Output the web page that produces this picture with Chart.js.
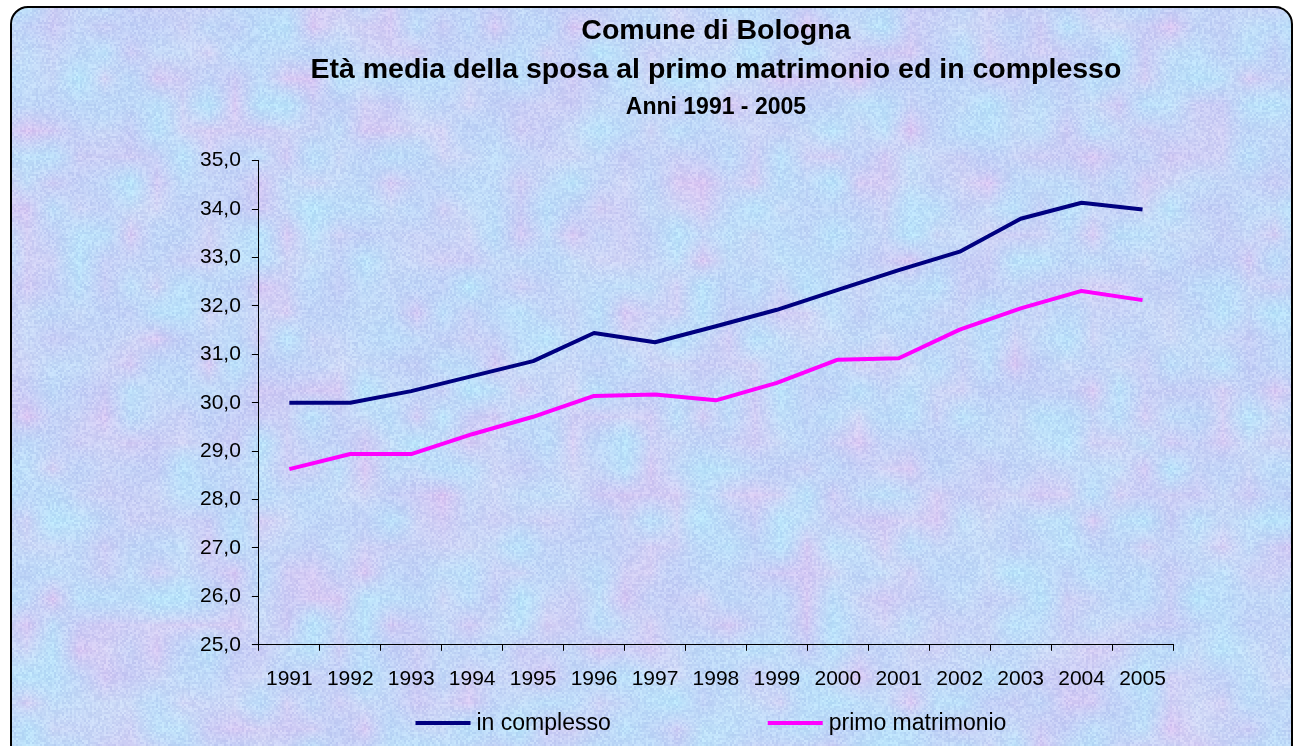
<!DOCTYPE html>
<html>
<head>
<meta charset="utf-8">
<script src="https://cdn.jsdelivr.net/npm/chart.js@4.4.0/dist/chart.umd.min.js"></script>
<style>
  html, body { margin: 0; padding: 0; background: #fff; }
  #bg { position: absolute; left: 0; top: 0; }
  #chart { position: absolute; left: 0; top: 0; }
  #frame {
    position: absolute; left: 10px; top: 6px; width: 1279px; height: 770px;
    border: 2px solid #000; border-radius: 18px; pointer-events: none;
  }
</style>
</head>
<body>
<canvas id="bg" width="1294" height="746"></canvas>
<canvas id="chart" width="1294" height="746"></canvas>
<div id="frame"></div>
<script>
const years = ['1991', '1992', '1993', '1994', '1995', '1996', '1997', '1998',
               '1999', '2000', '2001', '2002', '2003', '2004', '2005'];
const inComplesso = [30.0, 30.0, 30.24, 30.55, 30.86, 31.44, 31.25, 31.58,
                     31.92, 32.33, 32.74, 33.12, 33.8, 34.13, 33.99];
const primoMatrimonio = [28.63, 28.94, 28.94, 29.35, 29.71, 30.14, 30.17, 30.05,
                         30.41, 30.89, 30.92, 31.51, 31.95, 32.31, 32.12];
const yTicks = { min: 25, max: 35, step: 1 };

const FONT = '"Liberation Sans", Arial, sans-serif';

// marbled blue / pink paper texture behind the chart (seeded, fixed)
function paintTexture(cv) {
  const ctx = cv.getContext('2d');
  const w = cv.width, h = cv.height;
  let s = 20061;
  const rnd = () => (s = (s * 16807) % 2147483647) / 2147483647;
  const G = 26, gw = Math.ceil(w / G) + 2, gh = Math.ceil(h / G) + 2;
  const pink = [], cyan = [];
  for (let i = 0; i < gw * gh; i++) { pink.push(rnd()); cyan.push(rnd()); }
  const sample = (arr, x, y) => {
    const gx = x / G, gy = y / G, ix = Math.floor(gx), iy = Math.floor(gy);
    const fx = gx - ix, fy = gy - iy;
    const a = arr[iy * gw + ix], b = arr[iy * gw + ix + 1];
    const c = arr[(iy + 1) * gw + ix], d = arr[(iy + 1) * gw + ix + 1];
    return (a * (1 - fx) + b * fx) * (1 - fy) + (c * (1 - fx) + d * fx) * fy;
  };
  const img = ctx.createImageData(w, h);
  for (let y = 0; y < h; y += 2) {
    for (let x = 0; x < w; x += 2) {
      const p = Math.pow(sample(pink, x, y), 2);
      const c = sample(cyan, x, y);
      const g = (rnd() - 0.5) * 22;
      const r = 194 + p * 26 - c * 10 + g;
      const gg = 206 - p * 12 + c * 22 + g;
      const b = 246 - p * 4 + c * 4 + g * 0.5;
      for (let dy = 0; dy < 2; dy++) for (let dx = 0; dx < 2; dx++) {
        const k = ((y + dy) * w + x + dx) * 4;
        img.data[k] = r; img.data[k + 1] = gg; img.data[k + 2] = b; img.data[k + 3] = 255;
      }
    }
  }
  ctx.putImageData(img, 0, 0);
  // white outside the rounded frame
  ctx.globalCompositeOperation = 'destination-in';
  ctx.beginPath();
  ctx.roundRect(11, 7, 1281, 800, 18);
  ctx.fill();
}
paintTexture(document.getElementById('bg'));

const lineLegend = {
  id: 'lineLegend',
  afterDraw(chart) {
    const ctx = chart.ctx, area = chart.chartArea;
    const sets = chart.data.datasets;
    ctx.save();
    ctx.font = '23px ' + FONT;
    ctx.textBaseline = 'middle';
    const swatch = 55, gap = 6, between = 157;
    const widths = sets.map(d => swatch + gap + ctx.measureText(d.label).width);
    const total = widths.reduce((a, b) => a + b, 0) + between * (sets.length - 1);
    let x = (area.left + area.right) / 2 - 5 - total / 2;
    const y = chart.scales.x.bottom + 15;
    sets.forEach((d, i) => {
      ctx.fillStyle = d.borderColor;
      ctx.fillRect(x, y - 2, swatch, 4);
      ctx.fillStyle = '#000';
      ctx.fillText(d.label, x + swatch + gap, y + 1);
      x += widths[i] + between;
    });
    ctx.restore();
  }
};

new Chart(document.getElementById('chart'), {
  type: 'line',
  data: {
    labels: years,
    datasets: [
      { label: 'in complesso', data: inComplesso, borderColor: '#000080', borderWidth: 4,
        pointRadius: 0, tension: 0, borderJoinStyle: 'round' },
      { label: 'primo matrimonio', data: primoMatrimonio, borderColor: '#ff00ff', borderWidth: 4,
        pointRadius: 0, tension: 0, borderJoinStyle: 'round' }
    ]
  },
  options: {
    responsive: false,
    animation: false,
    layout: { padding: { left: 189, right: 121, top: 0, bottom: 38 } },
    plugins: {
      legend: { display: false },
      tooltip: { enabled: false },
      title: {
        display: true,
        fullSize: false,
        text: ['Comune di Bologna', 'Età media della sposa al primo matrimonio ed in complesso'],
        color: '#000',
        font: { family: FONT, size: 28.5, weight: 'bold', lineHeight: 1.37 },
        padding: { top: 12, bottom: 0 }
      },
      subtitle: {
        display: true,
        fullSize: false,
        text: 'Anni 1991 - 2005',
        color: '#000',
        font: { family: FONT, size: 23, weight: 'bold', lineHeight: 1.2 },
        padding: { top: 4, bottom: 39 }
      }
    },
    scales: {
      x: {
        offset: true,
        grid: { offset: true, drawOnChartArea: false, drawTicks: true, tickLength: 6, color: '#000' },
        border: { color: '#000', width: 1 },
        ticks: { color: '#000', padding: 16, maxRotation: 0, autoSkip: false,
                 font: { family: FONT, size: 21 } }
      },
      y: {
        min: yTicks.min,
        max: yTicks.max,
        grid: { drawOnChartArea: false, drawTicks: true, tickLength: 7, color: '#000' },
        border: { color: '#000', width: 1 },
        ticks: {
          stepSize: yTicks.step, color: '#000', padding: 11,
          font: { family: FONT, size: 21 },
          callback: v => v.toFixed(1).replace('.', ',')
        }
      }
    }
  },
  plugins: [lineLegend]
});
</script>
</body>
</html>
